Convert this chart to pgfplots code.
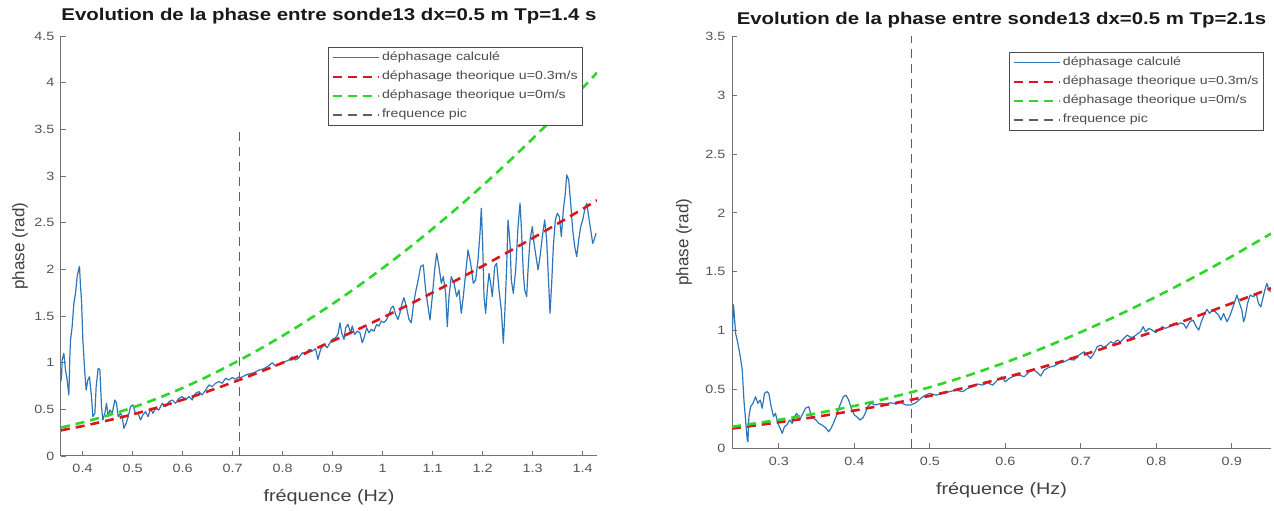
\documentclass[border=0pt]{standalone}
\usepackage{pgfplots}
\pgfplotsset{compat=1.18}
\usepackage{fontspec}
\setmainfont{Liberation Sans}[FakeStretch=1.2]
\newfontfamily\ylabfont{Liberation Sans}
\definecolor{mblue}{RGB}{45,118,185}
\definecolor{mred}{RGB}{215,25,30}
\definecolor{mgreen}{RGB}{45,215,40}
\definecolor{mgray}{RGB}{95,95,95}
\definecolor{axgray}{RGB}{115,115,115}
\definecolor{txtgray}{RGB}{85,85,85}
\pgfplotsset{
  mystyle/.style={
    scale only axis, anchor=south west,
    axis lines*=left,
    axis line style={axgray, line width=1pt},
    tick style={axgray, line width=0.8pt},
    tick align=inside,
    major tick length=5pt,
    /pgf/number format/assume math mode=true,
    tick label style={font=\fontsize{12}{13}\selectfont, text=txtgray},
    xticklabel style={yshift=-5pt},
    yticklabel style={xshift=-3pt},
    label style={font=\fontsize{16.5}{18}\selectfont, text=black!75},
    ylabel style={font=\ylabfont\fontsize{17}{18}\selectfont, anchor=center},
    xlabel style={anchor=center},
    title style={font=\bfseries\fontsize{17}{18}\selectfont, anchor=base, text=black!90},
    legend cell align=left,
    legend style={font=\fontsize{11.8}{13}\selectfont, text=black!70, draw=black!70, line width=0.8pt, inner sep=3pt, row sep=4pt, anchor=north east,
      nodes={text height=8.5pt, text depth=2.5pt, inner ysep=2pt, inner xsep=2pt}},
    legend image code/.code={\draw[#1] (0pt,0pt) -- (46pt,0pt);},
  },
  blueline/.style={color=mblue, line width=1.2pt, line join=round, no markers},
  redline/.style={color=mred, line width=2.6pt, dash pattern=on 9pt off 6pt, no markers},
  greenline/.style={color=mgreen, line width=2.6pt, dash pattern=on 9pt off 6pt, no markers},
  grayline/.style={color=mgray, line width=1.5pt, dash pattern=on 9pt off 6pt, no markers},
}
\begin{document}
\begin{tikzpicture}
\path[use as bounding box] (0,0) rectangle (1274pt,511pt);
% ---------------- left panel ----------------
\begin{axis}[mystyle,
  at={(61pt,55pt)}, width=536pt, height=420pt,
  xmin=0.357, xmax=1.4286, ymin=0, ymax=4.5,
  xtick={0.4,0.5,0.6,0.7,0.8,0.9,1,1.1,1.2,1.3,1.4},
  ytick={0,0.5,1,1.5,2,2.5,3,3.5,4,4.5},
  title={Evolution de la phase entre sonde13 dx=0.5 m Tp=1.4 s},
  title style={at={(axis description cs:0.5,1.0238)}},
  xlabel={fréquence (Hz)},
  xlabel style={at={(axis description cs:0.5,-0.0976)}},
  ylabel={phase (rad)},
  ylabel style={at={(axis description cs:-0.0765,0.5)}},
  legend style={at={(0.974,0.974)}},
]
\addplot[blueline] table {
0.357 0.80
0.3583 0.886
0.3593 1.029
0.3627 1.100
0.366 0.922
0.3693 0.815
0.3727 0.654
0.3747 1.065
0.376 1.243
0.3793 1.386
0.3827 1.636
0.386 1.743
0.3893 1.922
0.3927 2.011
0.394 2.029
0.396 1.815
0.398 1.672
0.4007 1.243
0.4047 0.886
0.4073 0.707
0.4107 0.815
0.414 0.850
0.418 0.636
0.4207 0.422
0.4247 0.457
0.4273 0.743
0.4313 0.940
0.4347 0.922
0.438 0.529
0.4407 0.386
0.4447 0.457
0.448 0.565
0.4513 0.422
0.4547 0.493
0.4593 0.457
0.4647 0.600
0.468 0.565
0.4713 0.422
0.476 0.457
0.4793 0.422
0.4827 0.297
0.4873 0.350
0.4913 0.422
0.496 0.529
0.5007 0.547
0.506 0.457
0.5113 0.457
0.516 0.386
0.5207 0.439
0.526 0.475
0.5313 0.422
0.536 0.511
0.5407 0.457
0.546 0.511
0.5527 0.493
0.5593 0.565
0.566 0.529
0.5727 0.582
0.5793 0.600
0.586 0.565
0.5927 0.618
0.5993 0.636
0.606 0.600
0.6127 0.636
0.6193 0.600
0.626 0.672
0.6327 0.690
0.6393 0.654
0.646 0.707
0.6527 0.761
0.6593 0.743
0.666 0.779
0.6727 0.797
0.6793 0.779
0.686 0.833
0.6927 0.815
0.6993 0.840
0.706 0.823
0.7127 0.848
0.716 0.840
0.7293 0.874
0.7427 0.892
0.7527 0.920
0.7627 0.935
0.7727 0.970
0.7793 0.999
0.786 0.963
0.7927 0.981
0.8027 1.006
0.8127 1.028
0.8193 1.063
0.826 1.028
0.8327 1.053
0.8393 1.106
0.846 1.088
0.8527 1.142
0.8593 1.124
0.866 1.149
0.8707 1.035
0.876 1.142
0.8827 1.195
0.8893 1.160
0.8947 1.213
0.8993 1.249
0.906 1.267
0.9107 1.303
0.9147 1.428
0.918 1.320
0.9227 1.249
0.926 1.374
0.9307 1.410
0.936 1.320
0.9393 1.392
0.944 1.303
0.9493 1.338
0.9547 1.320
0.9593 1.213
0.964 1.285
0.968 1.374
0.9727 1.320
0.9773 1.356
0.9827 1.338
0.988 1.410
0.9927 1.392
0.9973 1.446
1.0027 1.428
1.008 1.463
1.0127 1.517
1.0173 1.588
1.0213 1.606
1.026 1.517
1.0307 1.463
1.0347 1.535
1.0393 1.642
1.0427 1.696
1.048 1.588
1.0527 1.463
1.0573 1.428
1.0613 1.606
1.066 1.759
1.0707 1.876
1.076 2.029
1.0813 2.047
1.086 1.779
1.0907 1.601
1.0947 1.458
1.0993 1.708
1.104 1.994
1.108 2.172
1.1127 2.029
1.1173 1.851
1.1213 1.922
1.126 1.743
1.1293 1.386
1.1327 1.708
1.1373 1.922
1.1427 1.851
1.148 1.708
1.1527 1.779
1.1573 1.529
1.1613 1.708
1.166 1.958
1.1707 2.208
1.176 2.065
1.1813 1.851
1.186 1.886
1.1907 2.101
1.1947 2.387
1.1973 2.655
1.2 2.279
1.2027 1.708
1.206 1.529
1.2093 1.779
1.2127 1.958
1.216 1.851
1.2193 1.708
1.224 2.029
1.228 2.065
1.2327 1.779
1.2373 1.565
1.2413 1.208
1.244 1.493
1.248 2.029
1.2507 2.529
1.2547 2.279
1.2573 1.886
1.2613 1.743
1.266 1.994
1.2707 2.458
1.2747 2.708
1.2773 2.458
1.2813 1.958
1.284 1.779
1.288 1.708
1.2907 1.994
1.2947 2.315
1.2993 2.458
1.3027 2.279
1.3067 2.136
1.3107 1.994
1.3147 2.136
1.3193 2.351
1.324 2.529
1.328 2.315
1.3313 1.922
1.3347 1.529
1.338 1.851
1.3413 2.244
1.3453 2.529
1.3493 2.601
1.3533 2.565
1.3573 2.351
1.3613 2.637
1.3653 2.815
1.368 3.012
1.372 2.958
1.376 2.708
1.38 2.422
1.384 2.244
1.388 2.136
1.392 2.315
1.396 2.458
1.4 2.529
1.404 2.637
1.408 2.708
1.412 2.565
1.416 2.422
1.42 2.279
1.4227 2.315
1.4267 2.387
};
\addlegendentry{déphasage calculé}
\addplot[redline, smooth] table {
0.357 0.275
0.40 0.3205
0.45 0.380
0.50 0.4455
0.55 0.520
0.60 0.602
0.65 0.6915
0.70 0.788
0.75 0.8905
0.80 0.999
0.85 1.113
0.90 1.232
0.95 1.355
1.00 1.4825
1.05 1.615
1.10 1.751
1.15 1.891
1.20 2.035
1.25 2.183
1.30 2.3345
1.35 2.4895
1.40 2.648
1.4286 2.740
};
\addlegendentry{déphasage theorique u=0.3m/s}
\addplot[greenline, smooth] table {
0.357 0.305
0.40 0.360
0.45 0.434
0.50 0.519
0.55 0.6175
0.60 0.729
0.65 0.852
0.70 0.987
0.75 1.1325
0.80 1.288
0.85 1.454
0.90 1.630
0.95 1.816
1.00 2.012
1.05 2.2185
1.10 2.435
1.15 2.661
1.20 2.898
1.25 3.144
1.30 3.401
1.35 3.667
1.40 3.944
1.4286 4.107
};
\addlegendentry{déphasage theorique u=0m/s}
\addplot[grayline] coordinates {(0.714,0) (0.714,3.5)};
\addlegendentry{frequence pic}
\end{axis}
% ---------------- right panel ----------------
\begin{axis}[mystyle,
  at={(732pt,62.7pt)}, width=539pt, height=412pt,
  xmin=0.238, xmax=0.952, ymin=0, ymax=3.5,
  xtick={0.3,0.4,0.5,0.6,0.7,0.8,0.9},
  ytick={0,0.5,1,1.5,2,2.5,3,3.5},
  title={Evolution de la phase entre sonde13 dx=0.5 m Tp=2.1s},
  title style={at={(axis description cs:0.5,1.015)}},
  xlabel={fréquence (Hz)},
  xlabel style={at={(axis description cs:0.5,-0.102)}},
  ylabel={phase (rad)},
  ylabel style={at={(axis description cs:-0.089,0.5)}},
  legend style={at={(0.987,0.962)}},
]
\addplot[blueline] table {
0.2385 1.00
0.2398 1.22
0.2402 1.202
0.2428 0.976
0.2458 0.891
0.249 0.778
0.2516 0.665
0.2538 0.410
0.256 0.240
0.2582 0.070
0.2591 0.056
0.2604 0.269
0.2626 0.353
0.2657 0.382
0.2692 0.438
0.2723 0.382
0.2754 0.410
0.278 0.340
0.2811 0.467
0.2842 0.481
0.2868 0.467
0.2899 0.353
0.293 0.269
0.2956 0.297
0.2987 0.212
0.3009 0.184
0.3045 0.127
0.3075 0.184
0.3106 0.198
0.3141 0.240
0.3177 0.212
0.3207 0.269
0.3238 0.297
0.3273 0.240
0.3309 0.283
0.3353 0.340
0.3397 0.353
0.3428 0.283
0.3458 0.255
0.3494 0.240
0.3529 0.212
0.3573 0.198
0.3626 0.170
0.3661 0.141
0.3692 0.170
0.3723 0.212
0.3758 0.269
0.3802 0.353
0.3855 0.438
0.389 0.452
0.3925 0.410
0.396 0.340
0.4 0.283
0.4031 0.269
0.4075 0.240
0.411 0.255
0.4145 0.297
0.4176 0.353
0.422 0.382
0.4286 0.368
0.4352 0.382
0.4418 0.376
0.4484 0.387
0.455 0.376
0.4617 0.387
0.4683 0.368
0.4749 0.368
0.4815 0.387
0.4907 0.438
0.4995 0.467
0.5083 0.452
0.5171 0.467
0.5259 0.481
0.5347 0.495
0.5436 0.481
0.5502 0.509
0.5568 0.523
0.5634 0.546
0.57 0.537
0.5766 0.557
0.5832 0.537
0.5898 0.580
0.5955 0.608
0.5999 0.565
0.6052 0.594
0.6118 0.614
0.6184 0.622
0.625 0.608
0.6316 0.650
0.6382 0.665
0.6426 0.642
0.647 0.614
0.6514 0.665
0.658 0.688
0.6646 0.699
0.6712 0.722
0.6779 0.735
0.6845 0.756
0.6911 0.750
0.6977 0.792
0.7043 0.820
0.7087 0.792
0.7131 0.764
0.7175 0.806
0.7219 0.863
0.7263 0.877
0.7307 0.857
0.7351 0.877
0.7395 0.905
0.7439 0.891
0.7483 0.919
0.7527 0.905
0.7571 0.934
0.7615 0.962
0.7659 0.942
0.7703 0.948
0.7747 0.970
0.7791 0.990
0.7827 1.033
0.7857 0.990
0.7901 1.019
0.7946 1.004
0.799 0.982
0.8033 1.004
0.8078 1.033
0.8122 1.019
0.8188 1.038
0.8232 1.061
0.8276 1.047
0.832 1.066
0.8364 1.055
0.8399 1.019
0.8443 1.075
0.8487 1.089
0.8531 1.033
0.8562 1.004
0.8597 1.075
0.8641 1.146
0.8672 1.180
0.8707 1.146
0.8738 1.174
0.8782 1.160
0.8826 1.132
0.8857 1.089
0.8892 1.146
0.8936 1.075
0.8971 1.117
0.9002 1.174
0.9033 1.231
0.9068 1.302
0.9103 1.231
0.9134 1.174
0.9156 1.075
0.9178 1.117
0.9209 1.231
0.9244 1.302
0.9288 1.287
0.9324 1.316
0.9354 1.231
0.9385 1.202
0.9412 1.273
0.9438 1.344
0.9465 1.401
0.9491 1.344
0.9517 1.330
};
\addlegendentry{déphasage calculé}
\addplot[redline, smooth] table {
0.238 0.1685
0.25 0.178
0.30 0.221
0.35 0.268
0.40 0.3205
0.45 0.380
0.50 0.4455
0.55 0.520
0.60 0.602
0.65 0.6915
0.70 0.788
0.75 0.8905
0.80 0.999
0.85 1.113
0.90 1.232
0.952 1.360
};
\addlegendentry{déphasage theorique u=0.3m/s}
\addplot[greenline, smooth] table {
0.238 0.183
0.25 0.194
0.30 0.242
0.35 0.297
0.40 0.360
0.45 0.434
0.50 0.519
0.55 0.6175
0.60 0.729
0.65 0.852
0.70 0.987
0.75 1.1325
0.80 1.288
0.85 1.454
0.90 1.630
0.952 1.824
};
\addlegendentry{déphasage theorique u=0m/s}
\addplot[grayline] coordinates {(0.476,0) (0.476,3.5)};
\addlegendentry{frequence pic}
\end{axis}
\end{tikzpicture}
\end{document}
